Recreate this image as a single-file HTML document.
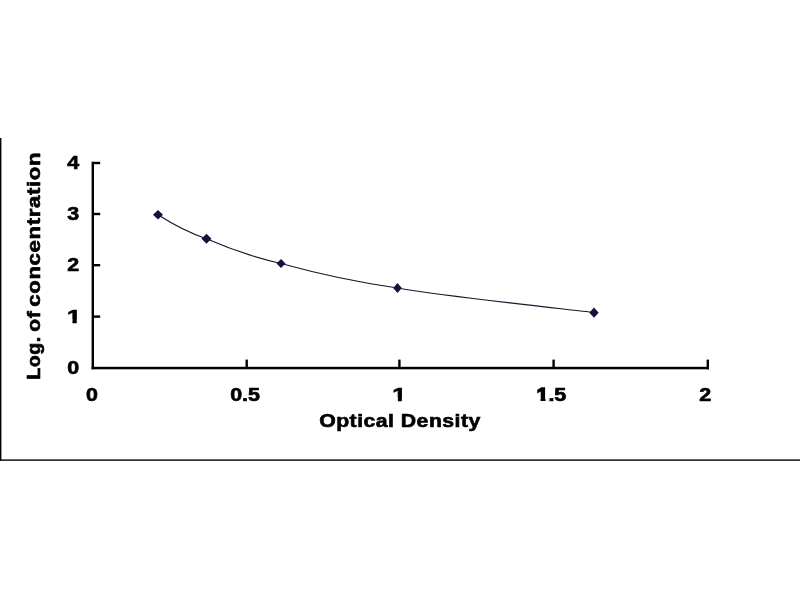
<!DOCTYPE html>
<html>
<head>
<meta charset="utf-8">
<title>Standard Curve</title>
<style>
html,body{margin:0;padding:0;background:#fff;}
body{width:800px;height:600px;overflow:hidden;position:relative;}
svg{position:absolute;left:0;top:0;display:block;}
text{font-family:"Liberation Sans",Arial,sans-serif;font-weight:bold;fill:#000;stroke:#000;stroke-width:0.65px;}
.tk{font-size:18px;}
.ax{font-size:18px;}
</style>
</head>
<body>
<svg width="800" height="600" viewBox="0 0 800 600">
  <rect x="0" y="0" width="800" height="600" fill="#ffffff"/>
  <defs>
    <clipPath id="c1"><rect x="63.50" y="305.6" width="13.70" height="14"/><rect x="72.50" y="319.4" width="4.20" height="4.5"/></clipPath>
    <clipPath id="c2"><rect x="388.90" y="383.7" width="13.35" height="14"/><rect x="397.90" y="397.5" width="3.85" height="4.5"/></clipPath>
    <clipPath id="c3"><rect x="530" y="386.8" width="15.4" height="10.9"/><rect x="540.65" y="397.6" width="4.7" height="3.5"/><rect x="548.8" y="380" width="25" height="26"/></clipPath>
  </defs>
  <!-- outer frame fragments -->
  <rect x="0" y="138" width="1.4" height="322.8" fill="#000"/>
  <rect x="0" y="459.4" width="800" height="1.4" fill="#000"/>
  <!-- axes -->
  <g fill="#000">
    <rect x="91.6" y="161.8" width="2.4" height="207.5"/>
    <rect x="91.6" y="366.8" width="617.4" height="2.5"/>
    <!-- y ticks -->
    <rect x="92" y="161.8" width="8.2" height="2.4"/>
    <rect x="92" y="212.8" width="8.2" height="2.4"/>
    <rect x="92" y="264" width="8.2" height="2.4"/>
    <rect x="92" y="315.4" width="8.2" height="2.4"/>
    <!-- x ticks -->
    <rect x="245.5" y="359.6" width="2.4" height="8"/>
    <rect x="398.2" y="359.6" width="2.4" height="8"/>
    <rect x="552.4" y="359.6" width="2.4" height="8"/>
    <rect x="706.6" y="359.6" width="2.4" height="9.7"/>
  </g>
  <!-- y tick labels -->
  <g class="tk" text-anchor="middle">
    <text transform="translate(73.3,168.5) scale(1.19,1)">4</text>
    <text transform="translate(73.2,220) scale(1.19,1)">3</text>
    <text transform="translate(73.2,271.4) scale(1.19,1)">2</text>
    <g clip-path="url(#c1)"><text transform="translate(74.1,322.6) scale(1.4,1)">1</text></g>
    <text transform="translate(73.3,374) scale(1.19,1)">0</text>
  </g>
  <!-- x tick labels -->
  <g class="tk" text-anchor="middle">
    <text transform="translate(92,400.5) scale(1.19,1)">0</text>
    <text transform="translate(245.0,400.5) scale(1.19,1)">0.5</text>
    <g clip-path="url(#c2)"><text transform="translate(399.2,400.5) scale(1.4,1)">1</text></g>
    <g clip-path="url(#c3)"><text text-anchor="start" transform="translate(536.5,400.5) scale(1.19,1)"><tspan style="stroke-width:1.3px">1</tspan>.5</text></g>
    <text transform="translate(705.3,400.5) scale(1.19,1)">2</text>
  </g>
  <!-- axis titles -->
  <text class="ax" transform="translate(400,426.6) scale(1.18,1)" text-anchor="middle" letter-spacing="0.4" style="stroke-width:0.6px">Optical Density</text>
  <g class="ax" style="stroke-width:0.6px">
    <text transform="translate(40,379.8) rotate(-90) scale(1.086,1.07)" letter-spacing="0.5" style="stroke-width:0.6px">Log.</text>
    <text transform="translate(40,331.8) rotate(-90) scale(1.17,1.07)" letter-spacing="0.5" style="stroke-width:0.6px">of</text>
    <text transform="translate(40,306.8) rotate(-90) scale(1.236,1.07)" letter-spacing="0.5" style="stroke-width:0.6px">concentration</text>
  </g>
  <!-- curve -->
  <path d="M158,214.8 C166.08,220.0 186.00,231.9 206.5,238.8 C227.00,247.8 249.17,256.2 281,263.5 C312.83,272.3 345.33,280.5 397.5,288 C449.67,297.0 561.25,308.6 594,312.5" fill="none" stroke="#16162c" stroke-width="1.15"/>
  <!-- markers -->
  <g fill="#15103c">
    <path d="M158,210.10000000000002 L163.0,214.8 L158,219.5 L153.0,214.8 Z"/>
    <path d="M206.5,233.8 L211.5,238.8 L206.5,243.8 L201.5,238.8 Z"/>
    <path d="M281,259.0 L285.5,263.5 L281,268.0 L276.5,263.5 Z"/>
    <path d="M397.5,282.9 L401.8,288 L397.5,293.1 L393.2,288 Z"/>
    <path d="M594,307.59999999999997 L598.7,312.7 L594,317.8 L589.3,312.7 Z"/>
  </g>
</svg>
</body>
</html>
